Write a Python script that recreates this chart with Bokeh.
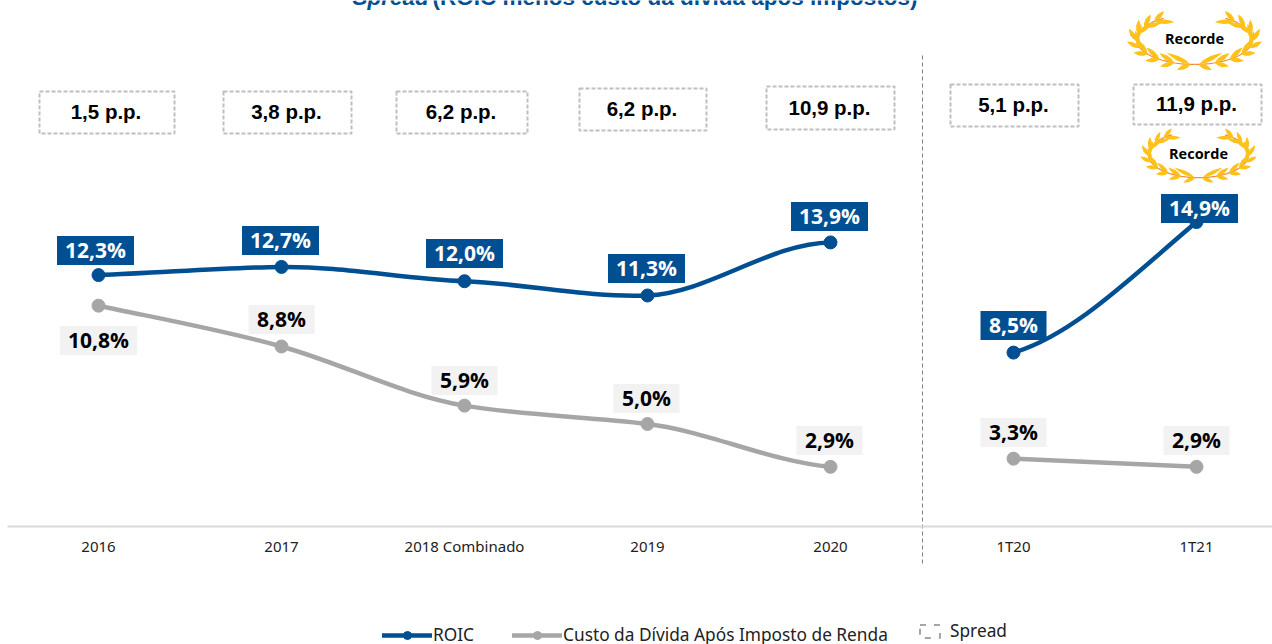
import math
from bokeh.embed import file_html
from bokeh.resources import INLINE
from bokeh.plotting import figure
from bokeh.models import Range1d, FixedTicker, Legend, LegendItem
from bokeh.core.properties import value

categories = ["2016", "2017", "2018 Combinado", "2019", "2020", "1T20", "1T21"]
roic = [12.3, 12.7, 12.0, 11.3, 13.9, 8.5, 14.9]
custo = [10.8, 8.8, 5.9, 5.0, 2.9, 3.3, 2.9]
spread = ["1,5 p.p.", "3,8 p.p.", "6,2 p.p.", "6,2 p.p.", "10,9 p.p.", "5,1 p.p.", "11,9 p.p."]
title_italic = "Spread"
title_rest = "(ROIC menos custo da dívida após impostos)"

# slopes of the smoothed curves at each point (value per category)
roic_slope = [0.3, 0.1, -0.35, 0.35, 0.1, 2.6, 7.5]
custo_slope = [-1.9, -2.5, -1.5, -1.1, -0.8, -0.4, -0.4]

# layout, in page pixels
W, H = 1272, 644
X0, DX, Y0, PXV = 98, 183, 525.5, 20.4
roic_lab = [(95, 250), (280, 240), (464, 253), (646, 268), (829, 216), (1013, 325), (1199, 208)]
custo_lab = [(98, 340), (281, 319), (464, 380), (646, 398), (829, 440), (1013, 432), (1196, 440)]
spread_box = [(39, 174, 91, 133), (223, 351, 91, 133), (396, 527, 91, 133), (579, 706, 88, 130),
              (766, 894, 86, 129), (950, 1078, 84, 126), (1133, 1261, 84, 124)]
BLUE, GRAY, LABEL_BG, DASH = "#004f93", "#a6a6a6", "#f2f2f2", "#bfbfbf"
GOLD, STEM = "#ffc21a", "#f28a3c"
F_NUM, F_BOX, F_AX = "Open Sans", "Liberation Sans", "Noto Sans"

p = figure(width=W, height=H, output_backend="svg", toolbar_location=None,
           x_range=Range1d(-X0 / DX, (W - X0) / DX),
           y_range=Range1d((Y0 - H) / PXV, Y0 / PXV),
           min_border=0, min_border_left=0, min_border_right=0, min_border_top=0, min_border_bottom=0,
           margin=0, outline_line_color=None, background_fill_color="white")
p.extra_x_ranges["px"] = Range1d(0, W)
p.extra_y_ranges["px"] = Range1d(H, 0)
PX = dict(x_range_name="px", y_range_name="px")
p.grid.visible = False
p.yaxis.visible = False

ax = p.xaxis[0]
ax.fixed_location = 0
ax.ticker = FixedTicker(ticks=list(range(len(categories))))
ax.major_label_overrides = {i: c for i, c in enumerate(categories)}
ax.major_tick_line_color = None
ax.minor_tick_line_color = None
ax.axis_line_color = "#d9d9d9"
ax.axis_line_width = 2
ax.bounds = ((7 - X0) / DX, (W - X0) / DX)
ax.major_label_text_font = F_AX
ax.major_label_text_font_size = "15px"
ax.major_label_text_color = "#222222"
ax.major_label_standoff = 4

# divider
p.segment([922], [55], [922], [563], line_color="#7f7f7f", line_dash="4 3", line_width=1, **PX)


def curve(vals, slopes, idx, color):
    x0 = idx[:-1]; x1 = idx[1:]
    y0 = [vals[i] for i in x0]; y1 = [vals[i] for i in x1]
    cx0 = [x + 1 / 3 for x in x0]; cx1 = [x - 1 / 3 for x in x1]
    cy0 = [vals[i] + slopes[i] / 3 for i in x0]; cy1 = [vals[i] - slopes[i] / 3 for i in x1]
    return p.bezier(x0=x0, y0=y0, x1=x1, y1=y1, cx0=cx0, cy0=cy0, cx1=cx1, cy1=cy1,
                    line_color=color, line_width=4.5, line_cap="round")


r1 = curve(custo, custo_slope, [0, 1, 2, 3, 4], GRAY)
curve(custo, custo_slope, [5, 6], GRAY)
r2 = curve(roic, roic_slope, [0, 1, 2, 3, 4], BLUE)
curve(roic, roic_slope, [5, 6], BLUE)
xs = list(range(len(categories)))
m1 = p.scatter(xs, custo, size=13, color=GRAY)
m2 = p.scatter(xs, roic, size=13, color=BLUE)


def labels(vals, pos, bg, fg):
    txt = [f"{v:.1f}".replace(".", ",") + "%" for v in vals]
    lx = [a for a, b in pos]; ly = [b for a, b in pos]
    wd = [77 if v >= 10 else 66 for v in vals]
    p.rect(lx, ly, width=wd, height=29, fill_color=bg, line_color=None,
           width_units="screen", height_units="screen", **PX)
    p.text(lx, [b - 1 for b in ly], text=txt, text_color=fg, text_font=value(F_NUM), text_font_style="bold",
           text_font_size="21px", text_align="center", text_baseline="middle", **PX)


labels(roic, roic_lab, BLUE, "white")
labels(custo, custo_lab, LABEL_BG, "black")

# spread boxes
sx = [(a + b) / 2 - 1 for a, b, c, d in spread_box]
sy = [(c + d) / 2 - 1 for a, b, c, d in spread_box]
q = p.quad(left=[b[0] for b in spread_box], right=[b[1] for b in spread_box],
           top=[b[2] for b in spread_box], bottom=[b[3] for b in spread_box],
           fill_color=None, line_color=DASH, line_width=2, line_dash="4 2", **PX)
p.text(sx, sy, text=spread, text_color="black", text_font=value(F_BOX), text_font_style="bold",
       text_font_size="20.5px", text_align="center", text_baseline="middle", **PX)

# title (cut by the page top, as in the reference)
p.text([352], [-3], text=[title_italic], text_color=BLUE, text_font=value(F_BOX),
       text_font_style="bold italic", text_font_size="22.5px", text_align="left",
       text_baseline="alphabetic", **PX)
p.text([432], [-3], text=[title_rest], text_color=BLUE, text_font=value(F_BOX),
       text_font_style="bold", text_font_size="22.5px", text_align="left",
       text_baseline="alphabetic", **PX)


def leaf(x, y, ang, L, w):
    ca, sa = math.cos(ang), math.sin(ang)
    lx, ly = [], []
    for s, off in [(0, 0), (0.25, w * 0.8), (0.55, w), (0.8, w * 0.55), (1, 0), (0.8, -w * 0.55), (0.55, -w), (0.25, -w * 0.8)]:
        u, v = s * L, off / 2
        lx.append(x + u * ca - v * sa)
        ly.append(y + u * sa + v * ca)
    return lx, ly


def wreath(cx, cy, rx, ry, label, fs):
    px, py = [], []
    for side in (-1, 1):
        stem_x, stem_y = [], []
        n = 30
        for i in range(n + 1):
            t = math.radians(90 + 148 * i / n)
            stem_x.append(cx + side * rx * 0.88 * -math.cos(t))
            stem_y.append(cy + ry * 0.86 * math.sin(t))
        p.line(stem_x, stem_y, line_color=STEM, line_width=1.2, **PX)
        for k in range(9):
            deg = 94 + 16.5 * k
            t = math.radians(deg)
            x = cx + side * rx * 0.88 * -math.cos(t)
            y = cy + ry * 0.86 * math.sin(t)
            tx = side * rx * math.sin(t)
            ty = ry * math.cos(t)
            a = math.atan2(ty, tx)
            spin = 0.42 * side
            L = rx * (0.40 - 0.012 * k) if k % 8 == 0 else rx * 0.27
            ox, oy = leaf(x, y, a - spin, L, rx * 0.07)
            ix, iy = leaf(x, y, a + spin, rx * 0.22, rx * 0.07)
            px += [ox, ix]; py += [oy, iy]
    p.patches(px, py, fill_color=GOLD, line_color=None, **PX)
    p.text([cx], [cy - 1], text=[label], text_color="black", text_font=value(F_NUM),
           text_font_style="bold", text_font_size=fs, text_align="center",
           text_baseline="middle", **PX)


wreath(1194, 39, 66, 29, "Recorde", "14.5px")
wreath(1198, 154, 57, 27, "Recorde", "14.5px")

# legends
sp = p.quad(left=[-99], right=[-98], top=[-99], bottom=[-100], fill_color=None,
            line_color="#a6a6a6", line_width=2, line_dash="6 8")
leg1 = Legend(items=[LegendItem(label="ROIC", renderers=[r2, m2]),
                     LegendItem(label="Custo da Dívida Após Imposto de Renda", renderers=[r1, m1])],
              orientation="horizontal", location=(382, -2), glyph_width=50, glyph_height=20,
              label_height=20, label_standoff=1, spacing=38, padding=0, margin=0,
              border_line_color=None, background_fill_alpha=0,
              label_text_font=F_AX, label_text_font_size="17.3px", label_text_color="#222222")
leg2 = Legend(items=[LegendItem(label="Spread", renderers=[sp])],
              orientation="horizontal", location=(917, 2), glyph_width=25, glyph_height=16,
              label_height=20, label_standoff=8, padding=0, margin=0,
              border_line_color=None, background_fill_alpha=0,
              label_text_font=F_AX, label_text_font_size="17.3px", label_text_color="#222222")
p.add_layout(leg1)
p.add_layout(leg2)

open("out.html", "w").write(file_html(p, INLINE))
